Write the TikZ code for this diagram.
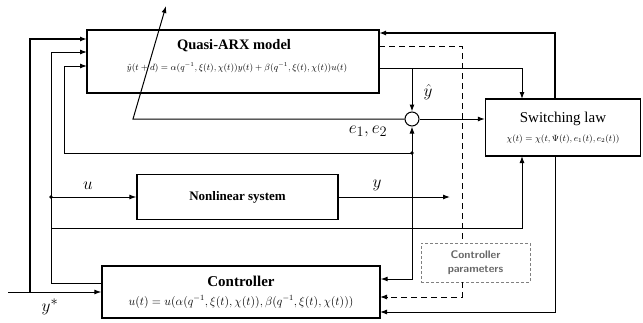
\documentclass[tikz,border=0pt]{standalone}
\usepackage{fontspec}
\setmainfont{Liberation Serif}
\usetikzlibrary{arrows.meta,calc}
\begin{document}
\begin{tikzpicture}[x=1pt,y=-1pt,
  >={Latex[length=7pt,width=5pt]},
  box/.style={draw,line width=1.3pt,inner sep=0pt},
  conn/.style={line width=1pt},
  thk/.style={line width=1.6pt},
  dsh/.style={line width=1pt,dash pattern=on 6pt off 4pt},
  lbl/.style={font=\fontsize{19}{21}\selectfont,inner sep=0pt},
  dot/.style={circle,fill,inner sep=1.3pt}]
\useasboundingbox (0,0) rectangle (643,322);
% blocks
\node[box,minimum width=292pt,minimum height=63pt] (arx) at (233,61.5) {};
\node[font=\bfseries\fontsize{14.5}{16}\selectfont] (arxt) at (234,46) {Quasi-ARX model};
\node[font=\fontsize{9.2}{10}\selectfont] (arxf) at (237,68) {$\hat{y}(t+d)=\alpha(q^{-1},\xi(t),\chi(t))y(t)+\beta(q^{-1},\xi(t),\chi(t))u(t)$};
\node[box,minimum width=155pt,minimum height=57pt] (sw) at (563,127.5) {};
\node[font=\fontsize{15}{17}\selectfont] (swt) at (563,119) {Switching law};
\node[font=\fontsize{8.8}{10}\selectfont] (swf) at (563,139) {$\chi(t)=\chi(t,\Psi(t),e_1(t),e_2(t))$};
\node[box,minimum width=201pt,minimum height=45pt] (nl) at (237.5,197) {};
\node[font=\bfseries\fontsize{13}{15}\selectfont] (nlt) at (237.5,197) {Nonlinear system};
\node[box,minimum width=278pt,minimum height=52pt] (ctrl) at (241,292) {};
\node[font=\bfseries\fontsize{15}{17}\selectfont] (ctrlt) at (241,281) {Controller};
\node[font=\fontsize{11.5}{13}\selectfont] (ctrlf) at (241,302) {$u(t)=u(\alpha(q^{-1},\xi(t),\chi(t)),\beta(q^{-1},\xi(t),\chi(t)))$};
\node[draw=gray,dash pattern=on 3pt off 2pt,line width=1pt,minimum width=109pt,minimum height=39pt,
  align=center,text=gray!80!black,font=\sffamily\bfseries\fontsize{11}{14}\selectfont] (cp) at (475.5,262.5) {Controller\\parameters};
\node[draw,circle,line width=1pt,minimum size=14pt,inner sep=0pt] (sum) at (412,119) {};
% coordinates
\coordinate (ys) at (8,292);
\coordinate (a1) at (87,39);
\coordinate (a2) at (87,52);
\coordinate (a3) at (87,66);
\coordinate (uo) at (102,283);
\coordinate (ud) at (51,197);
\coordinate (ed) at (412,153);
\coordinate (yh) at (379,68);
\coordinate (yhd) at (412,68);
\coordinate (pa) at (133,119);
\coordinate (pt) at (166,6);
\coordinate (yo) at (450,197);
% connectors
\draw[conn,->] (ys) -- (ctrl.west);
\draw[thk,->] (30,292) -- (30,39) -- (a1);
\draw[conn,->] (uo) -- (51,283) -- (51,52) -- (a2);
\draw[conn,->] (ud) -- (nl.west);
\node[dot] (udot) at (ud) {};
\draw[conn,->] (51,228) -- (522,228) -- (522,156);
\draw[conn,<->] (sum.south) -- (412,279) -- (ctrl.east |- 0,279);
\node[dot] (edot) at (ed) {};
\draw[conn,->] (ed) -- (64,153) -- (64,66) -- (a3);
\draw[conn,->] (yh) -- (522,68) -- (522,99);
\draw[conn,->] (yhd) -- (sum.north);
\draw[conn,->] (sum.east) -- (sum.east -| sw.west);
\draw[conn,->] (sum.west) -- (pa) -- (pt);
\draw[thk,->] (555,99) -- (555,33) -- (379,33);
\draw[dsh] (379,46) -- (462,46) -- (462,243);
\draw[dsh,->] (462,282) -- (462,297) -- (380,297);
\draw[conn,->] (555,156) -- (555,312) -- (380,312);
\draw[conn,->] (nl.east) -- (yo);
% labels
\node[lbl] (lu) at (88,186) {$u$};
\node[lbl] (ly) at (377,185) {$y$};
\node[lbl] (lyh) at (428,92) {$\hat{y}$};
\node[lbl] (lys) at (50,307) {$y^{*}$};
\node[lbl] (le) at (368,131) {$e_1,e_2$};
\end{tikzpicture}
\end{document}
